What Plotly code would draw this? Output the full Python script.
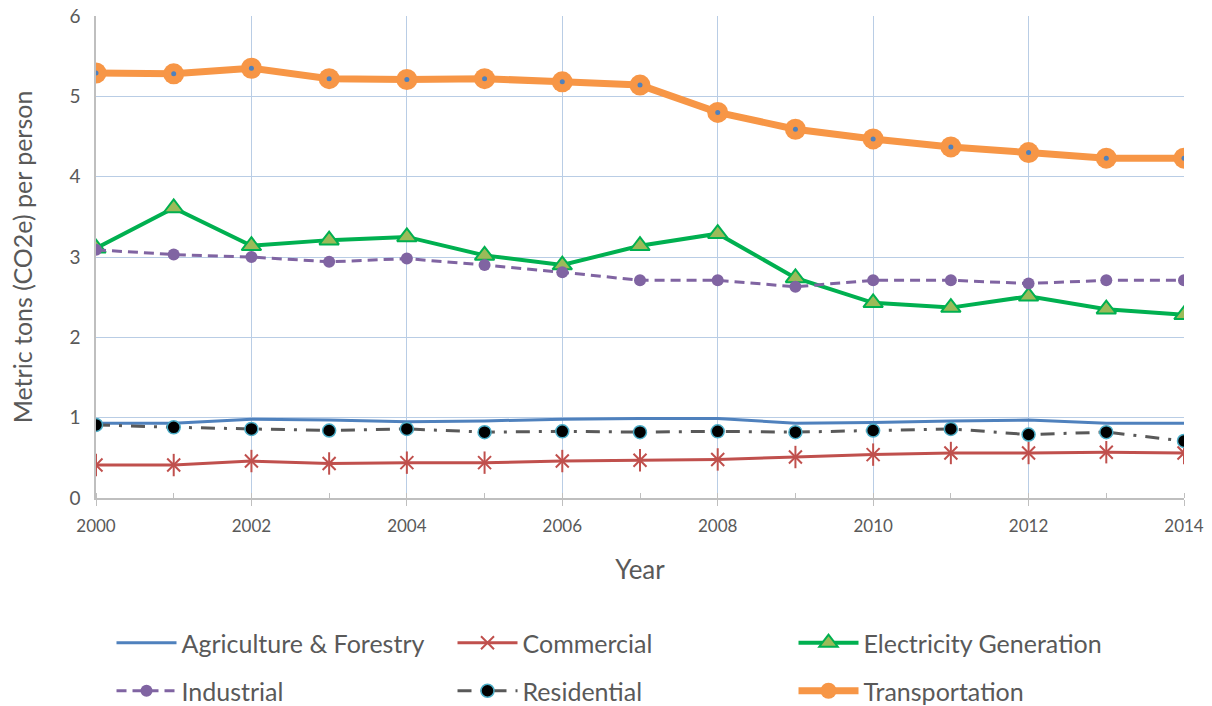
import plotly.graph_objects as go

years = list(range(2000, 2015))

agriculture = [0.93, 0.93, 0.98, 0.97, 0.95, 0.96, 0.98, 0.99, 0.99, 0.93, 0.94, 0.96, 0.97, 0.93, 0.93]
commercial = [0.41, 0.41, 0.46, 0.43, 0.44, 0.44, 0.46, 0.47, 0.48, 0.51, 0.54, 0.56, 0.56, 0.57, 0.56]
electricity = [3.11, 3.61, 3.14, 3.21, 3.25, 3.02, 2.90, 3.14, 3.29, 2.74, 2.43, 2.37, 2.51, 2.35, 2.28]
industrial = [3.09, 3.03, 3.00, 2.94, 2.98, 2.90, 2.81, 2.71, 2.71, 2.63, 2.71, 2.71, 2.67, 2.71, 2.71]
residential = [0.91, 0.88, 0.86, 0.84, 0.86, 0.82, 0.83, 0.82, 0.83, 0.82, 0.84, 0.86, 0.79, 0.82, 0.71]
transportation = [5.29, 5.28, 5.35, 5.22, 5.21, 5.22, 5.18, 5.14, 4.80, 4.59, 4.47, 4.37, 4.30, 4.23, 4.23]

FONT = "Lato"
TEXT = "#595959"
RED = "#C0504D"

fig = go.Figure()

fig.add_trace(go.Scatter(
    x=years, y=agriculture, name="Agriculture & Forestry", mode="lines",
    line=dict(color="#4F81BD", width=3), legend="legend"))

fig.add_trace(go.Scatter(
    x=years, y=commercial, name="Commercial", mode="lines+markers",
    line=dict(color=RED, width=3),
    marker=dict(symbol="x-thin-open", size=13, color=RED, line=dict(color=RED, width=2)),
    legend="legend"))
# vertical stroke completing the six-armed star marker
fig.add_trace(go.Scatter(
    x=years, y=commercial, mode="markers", showlegend=False, hoverinfo="skip",
    marker=dict(symbol="line-ns-open", size=16, color=RED, line=dict(color=RED, width=2))))

fig.add_trace(go.Scatter(
    x=years, y=electricity, name="Electricity Generation", mode="lines+markers",
    line=dict(color="#00B050", width=4),
    marker=dict(symbol="triangle-up", size=17, color="#9BBB59",
                line=dict(color="#00B050", width=2)),
    legend="legend"))

fig.add_trace(go.Scatter(
    x=years, y=industrial, name="Industrial", mode="lines+markers",
    line=dict(color="#8064A2", width=3, dash="10px,6px"),
    marker=dict(symbol="circle", size=12, color="#8064A2"),
    legend="legend2"))

fig.add_trace(go.Scatter(
    x=years, y=residential, name="Residential", mode="lines+markers",
    line=dict(color="#595959", width=3, dash="14px,9px,3px,9px"),
    marker=dict(symbol="circle", size=13, color="#000000",
                line=dict(color="#4BACC6", width=1.5)),
    legend="legend2"))

fig.add_trace(go.Scatter(
    x=years, y=transportation, name="Transportation", mode="lines+markers",
    line=dict(color="#F79646", width=7),
    marker=dict(symbol="circle", size=21, color="#F79646"),
    legend="legend2"))
# small inner dot on each transportation marker
fig.add_trace(go.Scatter(
    x=years, y=transportation, mode="markers", showlegend=False, hoverinfo="skip",
    marker=dict(symbol="circle", size=5, color="#4F81BD")))

legend_common = dict(
    orientation="h", xanchor="left", yanchor="middle",
    xref="container", yref="container",
    font=dict(family=FONT, size=25, color=TEXT),
    entrywidth=266, entrywidthmode="pixels",
    bgcolor="rgba(0,0,0,0)", itemwidth=60,
)

fig.update_layout(
    width=1212, height=706,
    margin=dict(l=96, r=28, t=16, b=208, autoexpand=False),
    paper_bgcolor="white", plot_bgcolor="white",
    font=dict(family=FONT, color=TEXT),
    showlegend=True,
    legend=dict(x=0.092, y=1 - 643 / 706, **legend_common),
    legend2=dict(x=0.092, y=1 - 691 / 706, **legend_common),
    xaxis=dict(
        range=[2000, 2014], dtick=2, tick0=2000,
        showgrid=True, gridcolor="#B9CDE5", gridwidth=1,
        showline=True, linecolor="#BFBFBF", linewidth=1.5,
        ticks="outside", ticklen=6, tickcolor="#BFBFBF",
        ticklabelstandoff=6,
        tickfont=dict(family=FONT, size=17, color=TEXT),
        minor=dict(dtick=1, ticks="inside", ticklen=5, tickcolor="#BFBFBF", showgrid=False),
        title=dict(text="Year", font=dict(family=FONT, size=26, color=TEXT), standoff=26),
        zeroline=False,
    ),
    yaxis=dict(
        range=[0, 6], dtick=1,
        showgrid=True, gridcolor="#B9CDE5", gridwidth=1,
        showline=True, linecolor="#BFBFBF", linewidth=1.5,
        ticks="", ticklabelstandoff=10,
        tickfont=dict(family=FONT, size=19, color=TEXT),
        title=dict(text="Metric tons (CO2e) per person",
                   font=dict(family=FONT, size=25, color=TEXT), standoff=30),
        zeroline=False,
    ),
)

fig.write_html("out.html")
